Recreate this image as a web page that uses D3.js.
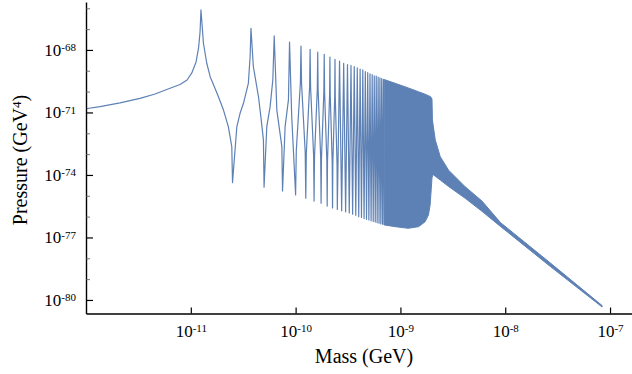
<!DOCTYPE html>
<html>
<head>
<meta charset="utf-8">
<script src="https://cdn.jsdelivr.net/npm/d3@7"></script>
<style>
  html, body { margin: 0; padding: 0; background: #fff; }
  svg { display: block; }
  svg text { font-family: "Liberation Serif", "Times New Roman", serif; }
</style>
</head>
<body>
<svg id="chart" width="632" height="374"></svg>
<script>
// points along the rise and the first resonances
const shoulderMass = [1e-12, 1.36e-12, 2.11e-12, 3.28e-12, 4.56e-12, 6.34e-12, 7.89e-12, 9.21e-12,
  1.022e-11, 1.122e-11, 1.186e-11, 1.225e-11,
  1.32e-11, 1.42e-11, 1.53e-11, 1.70e-11, 1.83e-11, 2.05e-11, 2.28e-11, 2.46e-11,
  2.75e-11, 2.95e-11, 3.18e-11, 3.54e-11, 3.68e-11,
  3.95e-11, 4.42e-11, 4.66e-11, 4.93e-11, 5.31e-11, 5.71e-11, 6.06e-11, 6.62e-11, 7.39e-11,
  7.94e-11, 8.54e-11, 9.18e-11];
const shoulderPressure = [1.5e-71, 1.9e-71, 2.86e-71, 4.7e-71, 7.7e-71, 1.45e-70, 2.2e-70, 3.6e-70,
  7.9e-70, 2.65e-69, 1.25e-68, 7.3e-68,
  2.1e-68, 2.3e-69, 5.2e-70, 1.45e-70, 5.8e-71, 1.3e-71, 2.1e-72, 2.3e-73,
  2.1e-72, 9.1e-72, 2.75e-71, 2.5e-70, 4.8e-69,
  1.6e-69, 5.8e-71, 6.3e-72, 4.8e-73, 2.1e-72, 1.9e-71, 3.6e-70, 1.3e-71, 2.3e-73,
  2.1e-72, 4.0e-71, 6.3e-72];

// flanks of the next, narrower resonances
const combMass = [1.015e-10, 1.11e-10, 1.14e-10, 1.235e-10, 1.265e-10, 1.36e-10, 1.39e-10, 1.485e-10,
  1.515e-10, 1.61e-10, 1.64e-10, 1.735e-10, 1.765e-10, 1.86e-10, 1.89e-10, 1.985e-10,
  2.015e-10, 2.11e-10, 2.14e-10, 2.235e-10, 2.265e-10, 2.36e-10, 2.39e-10, 2.485e-10];
const combPressure = [1.5e-73, 2.5e-70, 2.3e-70, 1.2e-73, 1.1e-73, 1.7e-70, 1.6e-70, 8.5e-74,
  7.8e-74, 1.3e-70, 1.2e-70, 6.5e-74, 6.1e-74, 1.0e-70, 9.3e-71, 4.9e-74,
  4.4e-74, 7.2e-71, 6.9e-71, 3.8e-74, 3.5e-74, 5.8e-71, 5.6e-71, 3.2e-74];

// resonance tops
const peakMass = [1.25e-11, 3.75e-11, 6.25e-11, 8.75e-11, 1.125e-10, 1.375e-10, 1.625e-10, 1.875e-10,
  2.125e-10, 2.375e-10, 2.625e-10, 2.875e-10, 3.125e-10, 3.375e-10, 3.625e-10, 3.875e-10,
  4.125e-10, 4.375e-10, 4.625e-10, 4.875e-10, 5.125e-10, 5.375e-10, 5.625e-10, 5.875e-10,
  6.125e-10, 6.375e-10, 6.625e-10, 6.875e-10];
const peakPressure = [8.3e-67, 1.1e-67, 4.7e-68, 2.4e-68, 1.55e-68, 1.07e-68, 7.8e-69, 6.2e-69,
  4.5e-69, 3.5e-69, 2.95e-69, 2.3e-69, 2.0e-69, 1.8e-69, 1.6e-69, 1.4e-69,
  1.2e-69, 1.1e-69, 9.1e-70, 8.1e-70, 7.2e-70, 6.5e-70, 5.75e-70, 5.5e-70,
  5.0e-70, 4.6e-70, 4.2e-70, 3.9e-70];

// zeros between them
const dipMass = [2.5e-11, 5e-11, 7.5e-11, 1e-10, 1.25e-10, 1.5e-10, 1.75e-10, 2e-10,
  2.25e-10, 2.5e-10, 2.75e-10, 3e-10, 3.25e-10, 3.5e-10, 3.75e-10, 4e-10,
  4.25e-10, 4.5e-10, 4.75e-10, 5e-10, 5.25e-10, 5.5e-10, 5.75e-10, 6e-10,
  6.25e-10, 6.5e-10, 6.75e-10, 7e-10];
const dipPressure = [4.3e-75, 2.6e-75, 1.7e-75, 1.1e-75, 7.6e-76, 5.6e-76, 4.4e-76, 3.2e-76,
  2.6e-76, 2.2e-76, 1.9e-76, 1.7e-76, 1.5e-76, 1.3e-76, 1.15e-76, 1.0e-76,
  9.1e-77, 8.1e-77, 7.4e-77, 6.9e-77, 6.3e-77, 5.9e-77, 5.5e-77, 5.1e-77,
  4.8e-77, 4.5e-77, 4.3e-77, 4.0e-77];

// where the oscillations are too dense to separate: upper / lower envelope
const bandMass = [7.0e-10, 8.9e-10, 1.19e-9, 1.49e-9, 1.72e-9, 1.85e-9, 1.92e-9, 1.97e-9, 2.0e-9,
  2.02e-9, 2.07e-9, 2.15e-9, 2.4e-9, 2.88e-9, 4.15e-9, 6.0e-9, 9.0e-9, 2.7e-8, 8.4e-8];
const bandUpper = [3.8e-70, 2.5e-70, 1.5e-70, 9.8e-71, 7.5e-71, 6.4e-71, 5.9e-71, 5.2e-71, 4.4e-71,
  4.4e-72, 1.8e-72, 4.8e-73, 7.5e-74, 1.7e-74, 2.7e-75, 5.6e-76, 5.2e-77, 5.9e-79, 5.4e-81];
const bandLower = [4.0e-77, 3.3e-77, 2.75e-77, 3.3e-77, 5.7e-77, 1.2e-76, 3.6e-76, 2.3e-75, 7.2e-75,
  8.9e-75, 1.0e-74, 8.7e-75, 5.7e-75, 2.8e-75, 7.6e-76, 1.8e-76, 3.4e-77, 4.0e-79, 4.6e-81];

const xTicks = [1e-11, 1e-10, 1e-9, 1e-8, 1e-7];
const yTicks = [1e-80, 1e-77, 1e-74, 1e-71, 1e-68];
const yMinorTicks = [1e-79, 1e-78, 1e-76, 1e-75, 1e-73, 1e-72, 1e-70, 1e-69, 1e-67, 1e-66];

const color = '#5e81b5';
const svg = d3.select('#chart');

const x = d3.scaleLog().domain([1e-12, 1.62e-7]).range([86, 632]);
const y = d3.scaleLog().domain([2.24e-81, 2.0e-66]).range([313.5, 2]);

// sparse part: merge the read points and sort by mass
const curve = [];
shoulderMass.forEach((m, i) => curve.push([m, shoulderPressure[i]]));
combMass.forEach((m, i) => curve.push([m, combPressure[i]]));
peakMass.forEach((m, i) => curve.push([m, peakPressure[i]]));
dipMass.forEach((m, i) => curve.push([m, dipPressure[i]]));
curve.sort((a, b) => a[0] - b[0]);

const band = bandMass.map((m, i) => ({m: m, lo: bandLower[i], hi: bandUpper[i]}));

svg.append('path')
  .attr('d', d3.area().x(d => x(d.m)).y0(d => y(d.lo)).y1(d => y(d.hi))(band))
  .attr('fill', color)
  .attr('stroke', color)
  .attr('stroke-width', 1)
  .attr('stroke-linejoin', 'round');

svg.append('path')
  .attr('d', d3.line().x(d => x(d[0])).y(d => y(d[1]))(curve))
  .attr('fill', 'none')
  .attr('stroke', color)
  .attr('stroke-width', 1.2)
  .attr('stroke-linejoin', 'round');

function powLabel(sel, anchor) {
  sel.each(function(d) {
    const e = Math.round(Math.log10(d));
    const t = d3.select(this);
    t.text('10').attr('text-anchor', anchor);
    t.append('tspan').attr('dy', '-0.42em').attr('font-size', '11px').text('-' + Math.abs(e));
  });
}

// y axis
const gy = svg.append('g').attr('transform', 'translate(86,0)');
gy.call(d3.axisLeft(y).tickValues(yTicks).tickSize(-7).tickSizeOuter(0).tickPadding(10).tickFormat(d => d));
gy.attr('font-family', null);
gy.selectAll('.tick text').attr('font-size', '17px').attr('fill', '#000').call(powLabel, 'end');
gy.select('.domain').attr('stroke-width', 1.4);
gy.selectAll('.tick line').attr('stroke-width', 1.2);

const gyMinor = svg.append('g').attr('transform', 'translate(86,0)');
gyMinor.call(d3.axisLeft(y).tickValues(yMinorTicks).tickSize(-4).tickFormat(''));
gyMinor.select('.domain').remove();
gyMinor.selectAll('.tick line').attr('stroke-width', 0.8).attr('stroke', '#555');

// x axis
const gx = svg.append('g').attr('transform', 'translate(0,313.5)');
gx.call(d3.axisBottom(x).tickValues(xTicks).tickSize(-6).tickSizeOuter(0).tickPadding(11).tickFormat(d => d));
gx.attr('font-family', null);
gx.selectAll('.tick text').attr('font-size', '17px').attr('fill', '#000').call(powLabel, 'middle');
gx.select('.domain').attr('stroke-width', 1.4);
gx.selectAll('.tick line').attr('stroke-width', 1.2);

// titles
svg.append('text')
  .attr('x', 364).attr('y', 363)
  .attr('text-anchor', 'middle')
  .attr('font-size', '20px')
  .text('Mass (GeV)');

const yt = svg.append('text')
  .attr('transform', 'translate(27,160) rotate(-90)')
  .attr('text-anchor', 'middle')
  .attr('font-size', '20px');
yt.append('tspan').text('Pressure (GeV');
yt.append('tspan').attr('dy', '-0.45em').attr('font-size', '13px').text('4');
yt.append('tspan').attr('dy', '0.3em').text(')');
</script>
</body>
</html>
